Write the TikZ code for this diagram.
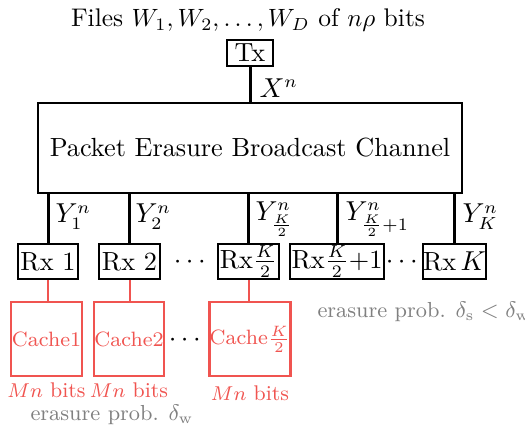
\documentclass[tikz,border=0pt]{standalone}
\usepackage{amsmath}
\definecolor{cred}{RGB}{240,84,80}
\definecolor{cgray}{RGB}{128,128,128}
\begin{document}
\begin{tikzpicture}[x=0.4pt,y=-0.4pt,
  font=\fontsize{10.5}{12.6}\selectfont,
  blk/.style={draw=black,line width=1pt,inner sep=0pt,minimum height=14pt},
  cachebox/.style={draw=cred,line width=1.1pt,inner sep=0pt,minimum height=29.6pt,text=cred,font=\fontsize{8.3}{10}\selectfont},
  wire/.style={line width=1.2pt},
  rwire/.style={draw=cred,line width=0.8pt},
  lab/.style={anchor=west,inner sep=0pt},
  bits/.style={text=cred,inner sep=0pt,font=\fontsize{8.5}{10}\selectfont},
  glab/.style={text=cgray,inner sep=0pt,font=\fontsize{8.7}{10}\selectfont}]
\useasboundingbox (0,0) rectangle (525,426);
\node[inner sep=0pt,font=\fontsize{10.2}{12}\selectfont] (title) at (248,20) {Files $W_1, W_2, \ldots, W_D$ of $n\rho$ bits};
\node[blk,minimum width=18.4pt,minimum height=10.4pt] (tx) at (250,53) {Tx};
\node[blk,minimum width=169.6pt,minimum height=36pt] (ch) at (250,148) {Packet Erasure Broadcast Channel};
\draw[wire] (tx.south) -- (tx.south |- ch.north) coordinate (chtop);
\node[lab] (xn) at (259,88) {$X^n$};
% receivers
\node[blk,minimum width=24pt] (rx1) at (48,261.5) {Rx 1};
\node[blk,minimum width=24.4pt] (rx2) at (129.5,261.5) {Rx 2};
\node[blk,minimum width=24.4pt] (rx3) at (248.5,261.5) {Rx$\frac{K}{2}$};
\node[blk,minimum width=37.6pt] (rx4) at (337,261.5) {Rx$\frac{K}{2}$+1};
\node[blk,minimum width=24.4pt] (rx5) at (454.5,261.5) {Rx\,$K$};
\foreach \r in {rx1,rx2,rx3,rx4,rx5}{
  \draw[wire] (\r.north) -- (\r.north |- ch.south);
}
\node[lab] (y1) at (55,217) {$Y_1^n$};
\node[lab] (y2) at (135,217) {$Y_2^n$};
\node[lab] (y3) at (255,219) {$Y_{\frac{K}{2}}^n$};
\node[lab] (y4) at (345,219) {$Y_{\frac{K}{2}+1}^n$};
\node[lab] (y5) at (462,217) {$Y_K^n$};
\node[inner sep=0pt] (d1) at (192,262) {$\cdots$};
\node[inner sep=0pt] (d2) at (404,262) {$\cdots$};
% caches
\node[cachebox,minimum width=28.4pt] (c1) at (46.5,339) {Cache1};
\node[cachebox,minimum width=28pt] (c2) at (129,339) {Cache2};
\node[cachebox,minimum width=29.6pt] (c3) at (250,339) {Cache$\frac{K}{2}$};
\draw[rwire] (rx1.south) -- (rx1.south |- c1.north);
\draw[rwire] (rx2.south) -- (rx2.south |- c2.north);
\draw[rwire] (rx3.south) -- (rx3.south |- c3.north);
\node[inner sep=0pt] (d3) at (187,340) {$\cdots$};
\node[bits] (b1) at (46.5,390) {$Mn$ bits};
\node[bits] (b2) at (129,390) {$Mn$ bits};
\node[bits] (b3) at (250,393) {$Mn$ bits};
\node[glab] (ew) at (112,415) {erasure prob. $\delta_{\mathrm{w}}$};
\node[glab,anchor=west] (es) at (317,312) {erasure prob. $\delta_{\mathrm{s}} < \delta_{\mathrm{w}}$};
\end{tikzpicture}
\end{document}
